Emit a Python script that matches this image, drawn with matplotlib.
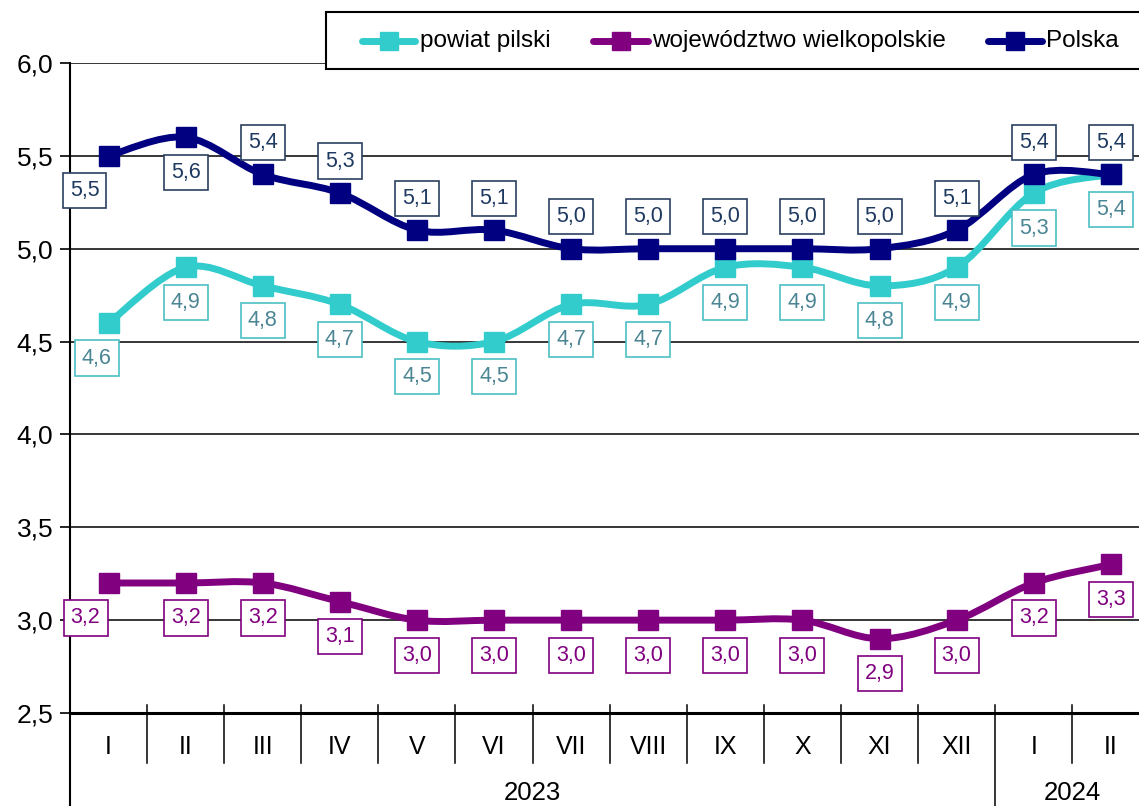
"""
Stopa bezrobocia: powiat pilski, woj. wielkopolskie, Polska (I 2023 - II 2024).
Smoothed lines with square markers and boxed value labels, Excel style.
"""

import matplotlib
matplotlib.use("Agg")
import matplotlib.pyplot as plt
from matplotlib.path import Path
from matplotlib.patches import PathPatch, Rectangle
from matplotlib.lines import Line2D
from matplotlib.ticker import FuncFormatter
import matplotlib.transforms as mtransforms

plt.rcParams["font.family"] = ["Liberation Sans", "DejaVu Sans"]

# ---- data ----
MONTHS = ["I", "II", "III", "IV", "V", "VI", "VII", "VIII", "IX", "X", "XI", "XII", "I", "II"]
YEARS = ["2023", "2024"]
SERIES_NAMES = ["powiat pilski", "województwo wielkopolskie", "Polska"]
powiat = [4.6, 4.9, 4.8, 4.7, 4.5, 4.5, 4.7, 4.7, 4.9, 4.9, 4.8, 4.9, 5.3, 5.4]
wojewodztwo = [3.2, 3.2, 3.2, 3.1, 3.0, 3.0, 3.0, 3.0, 3.0, 3.0, 2.9, 3.0, 3.2, 3.3]
polska = [5.5, 5.6, 5.4, 5.3, 5.1, 5.1, 5.0, 5.0, 5.0, 5.0, 5.0, 5.1, 5.4, 5.4]

# ---- styles ----
W, H, DPI = 1139, 806, 100
LINE_COLORS = ["#33CCCC", "#800080", "#000080"]
TEXT_COLORS = ["#4B8594", "#800080", "#1F3A60"]
BOX_EDGES = ["#4DBFC2", "#800080", "#2A3F5F"]
# label side per point: +1 above, -1 below
SIDES = [
    [-1] * 14,
    [-1] * 14,
    [-1, -1] + [1] * 12,
]
FIRST_DX = [-12, -23, -24]


def smooth_path(xs, ys):
    # cubic bezier through points (Catmull-Rom style control points)
    n = len(xs)
    verts = [(xs[0], ys[0])]
    codes = [Path.MOVETO]
    for i in range(n - 1):
        x0, y0 = (xs[i - 1], ys[i - 1]) if i > 0 else (xs[i], ys[i])
        x3, y3 = (xs[i + 2], ys[i + 2]) if i + 2 < n else (xs[i + 1], ys[i + 1])
        c1 = (xs[i] + (xs[i + 1] - x0) / 6, ys[i] + (ys[i + 1] - y0) / 6)
        c2 = (xs[i + 1] - (x3 - xs[i]) / 6, ys[i + 1] - (y3 - ys[i]) / 6)
        verts += [c1, c2, (xs[i + 1], ys[i + 1])]
        codes += [Path.CURVE4] * 3
    return Path(verts, codes)


def fmt(v):
    return f"{v:.1f}".replace(".", ",")


fig = plt.figure(figsize=(W / DPI, H / DPI), dpi=DPI)
cat_w = 77.1
ax = fig.add_axes([70 / W, (H - 713) / H, 14 * cat_w / W, 650 / H])

x = list(range(len(MONTHS)))
all_series = [powiat, wojewodztwo, polska]

for k, ys in enumerate(all_series):
    patch = PathPatch(smooth_path(x, ys), fill=False, edgecolor=LINE_COLORS[k],
                      lw=5, capstyle="round", joinstyle="round", zorder=3 + k, clip_on=False)
    ax.add_patch(patch)
    ax.plot(x, ys, "s", ms=15, color=LINE_COLORS[k], zorder=3.5 + k, clip_on=False)
    for i, v in enumerate(ys):
        dy = 32 if SIDES[k][i] > 0 else -35
        dx = FIRST_DX[k] if i == 0 else 0
        ax.annotate(fmt(v), (i, v), xytext=(dx, dy), textcoords="offset pixels",
                    ha="center", va="center", fontsize=15.5, color=TEXT_COLORS[k], zorder=10,
                    bbox=dict(boxstyle="square,pad=0.33", fc="white", ec=BOX_EDGES[k], lw=1.2))

ax.set_xlim(-0.5, len(MONTHS) - 0.5)
ax.set_ylim(2.5, 6.0)
ax.set_yticks([2.5, 3.0, 3.5, 4.0, 4.5, 5.0, 5.5, 6.0])
ax.yaxis.set_major_formatter(FuncFormatter(lambda v, _: fmt(v)))
ax.yaxis.grid(True, color="black", lw=1.1)
ax.set_axisbelow(True)
ax.tick_params(axis="y", labelsize=19, length=7, width=1.2, pad=5)
ax.set_xticks(x, MONTHS)
ax.tick_params(axis="x", labelsize=18, length=0, pad=16)

for side in ["top", "right"]:
    ax.spines[side].set_visible(False)
ax.spines["left"].set_linewidth(1.5)
ax.spines["bottom"].set_linewidth(2.2)

# category separators below the axis
trans = mtransforms.blended_transform_factory(ax.transData, ax.transAxes)
for b in range(len(MONTHS) - 1):
    low = -93 / 650 if b == 11 else -50 / 650
    ax.add_line(Line2D([b + 0.5, b + 0.5], [8 / 650, low], transform=trans,
                       color="black", lw=1.1, clip_on=False))
ax.add_line(Line2D([-0.5, -0.5], [0, -93 / 650], transform=trans,
                   color="black", lw=1.5, clip_on=False))
ax.text(5.5, -80 / 650, YEARS[0], transform=trans, ha="center", va="center", fontsize=18.5)
ax.text(12.5, -80 / 650, YEARS[1], transform=trans, ha="center", va="center", fontsize=18.5)

# legend box (cut at right edge, as in the source)
def fx(px):
    return px / W


def fy(py):
    return 1 - py / H


fig.add_artist(Rectangle((fx(326), fy(69)), fx(900), 57 / H, transform=fig.transFigure,
                         fc="white", ec="black", lw=1.5, zorder=20))
leg_items = [(362, 415, 420), (593, 648, 652), (988, 1042, 1046)]
for k, (x0, x1, tx) in enumerate(leg_items):
    fig.add_artist(Line2D([fx(x0), fx(x1)], [fy(41), fy(41)], transform=fig.transFigure,
                          color=LINE_COLORS[k], lw=5, solid_capstyle="round", zorder=21))
    fig.add_artist(Line2D([fx((x0 + x1) / 2)], [fy(41)], transform=fig.transFigure,
                          marker="s", ms=13, color=LINE_COLORS[k], zorder=22))
    fig.text(fx(tx), fy(41), SERIES_NAMES[k], ha="left", va="center", fontsize=17.5, zorder=23)

fig.savefig("out.png", dpi=DPI)
